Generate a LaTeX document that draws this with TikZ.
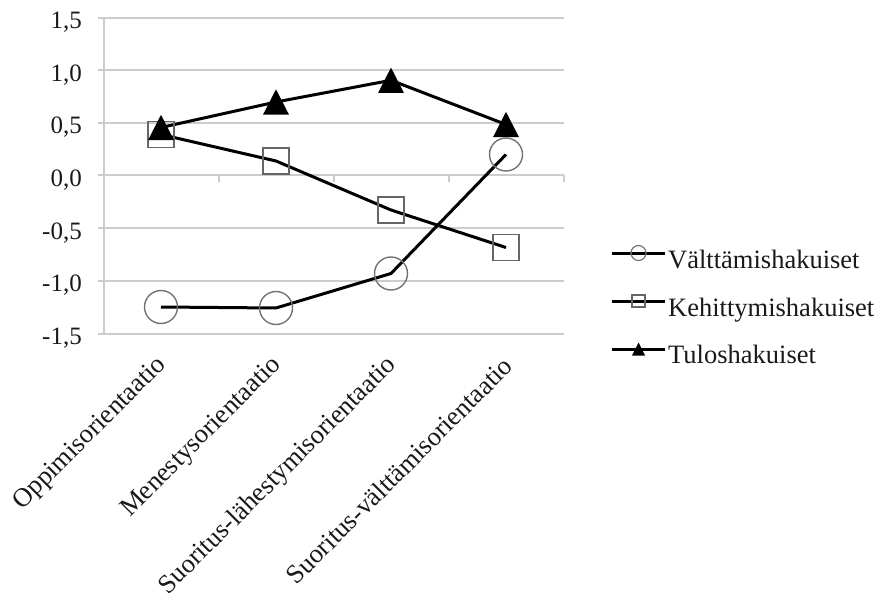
\documentclass[tikz,border=0pt]{standalone}
\usepackage{fontspec}
\setmainfont{Liberation Serif}
\begin{document}
\begin{tikzpicture}[x=1pt,y=-1pt,
  gridline/.style={draw=black!20, line width=2pt},
  series/.style={draw=black, line width=3pt, line join=round},
  circmark/.style={circle, draw=black!55, line width=1.4pt, minimum size=33pt, inner sep=0pt},
  sqmark/.style={rectangle, draw=black!60, line width=1.6pt, minimum size=26pt, inner sep=0pt},
  legcirc/.style={circle, draw=black!55, line width=1.2pt, minimum size=15pt, inner sep=0pt},
  legsq/.style={rectangle, draw=black!60, line width=1.2pt, minimum width=13pt, minimum height=12pt, inner sep=0pt},
  ylab/.style={anchor=base east, inner sep=0pt, text=black!90, font=\fontsize{25}{25}\selectfont},
  catlab/.style={anchor=east, rotate=45, inner sep=0pt, text=black!90, font=\fontsize{26.5}{26.5}\selectfont},
  leglab/.style={anchor=base west, inner sep=0pt, text=black!90, font=\fontsize{26.5}{26.5}\selectfont},
  trimark/.pic={\fill[black] (-13,12.7) -- (0,-12.7) -- (13,12.7) -- cycle;},
  legtri/.pic={\fill[black] (-6.5,6.5) -- (0,-6.5) -- (6.5,6.5) -- cycle;}]
\useasboundingbox (0,0) rectangle (879,599);

% grid and axes
\foreach \yy in {17.6,70.2,122.9,175.5,228.2,280.8,333.5}
  \draw[gridline] (98,\yy) -- (563.5,\yy);
\draw[gridline] (104,17.6) -- (104,333.5);
\foreach \xx in {218.5,333.5,448.5,563.5}
  \draw[gridline] (\xx,175.5) -- (\xx,182.5);

% y labels
\node[ylab] (y15) at (82,28.6) {1,5};
\node[ylab] (y10) at (82,81.2) {1,0};
\node[ylab] (y05) at (82,133.9) {0,5};
\node[ylab] (y00) at (82,186.5) {0,0};
\node[ylab] (ym05) at (82,239.2) {-0,5};
\node[ylab] (ym10) at (82,291.8) {-1,0};
\node[ylab] (ym15) at (82,344.5) {-1,5};

% category labels
\node[catlab] (c1) at (163,361.5) {Oppimisorientaatio};
\node[catlab] (c2) at (278,361.5) {Menestysorientaatio};
\node[catlab] (c3) at (393,361.5) {Suoritus-lähestymisorientaatio};
\node[catlab] (c4) at (508,361.5) {Suoritus-välttämisorientaatio};

% data points
\coordinate (v1) at (161,307);
\coordinate (v2) at (276,308);
\coordinate (v3) at (391,273.5);
\coordinate (v4) at (506,154.5);
\coordinate (k1) at (161,134.5);
\coordinate (k2) at (276,161);
\coordinate (k3) at (391,210);
\coordinate (k4) at (506,247.5);
\coordinate (t1) at (161,127.5);
\coordinate (t2) at (276,102);
\coordinate (t3) at (391,80.3);
\coordinate (t4) at (506,124.5);

% series lines
\draw[series] (v1) -- (v2) -- (v3) -- (v4);
\draw[series] (k1) -- (k2) -- (k3) -- (k4);
\draw[series] (t1) -- (t2) -- (t3) -- (t4);

% markers
\foreach \p in {v1,v2,v3,v4} \node[circmark] (m\p) at (\p) {};
\foreach \p in {k1,k2,k3,k4} \node[sqmark] (m\p) at (\p) {};
\foreach \p in {t1,t2,t3,t4} \pic at (\p) {trimark};

% legend
\coordinate (la1) at (612,253);
\coordinate (lb1) at (665,253);
\coordinate (la2) at (612,301);
\coordinate (lb2) at (665,301);
\coordinate (la3) at (612,349);
\coordinate (lb3) at (665,349);
\draw[series] (la1) -- (lb1);
\draw[series] (la2) -- (lb2);
\draw[series] (la3) -- (lb3);
\node[legcirc] (lm1) at (638.5,253) {};
\node[legsq] (lm2) at (638.5,301) {};
\pic at (638.5,349) {legtri};
\node[leglab] (l1) at (668,268) {Välttämishakuiset};
\node[leglab] (l2) at (668,316.5) {Kehittymishakuiset};
\node[leglab] (l3) at (668,363.5) {Tuloshakuiset};
\end{tikzpicture}
\end{document}
